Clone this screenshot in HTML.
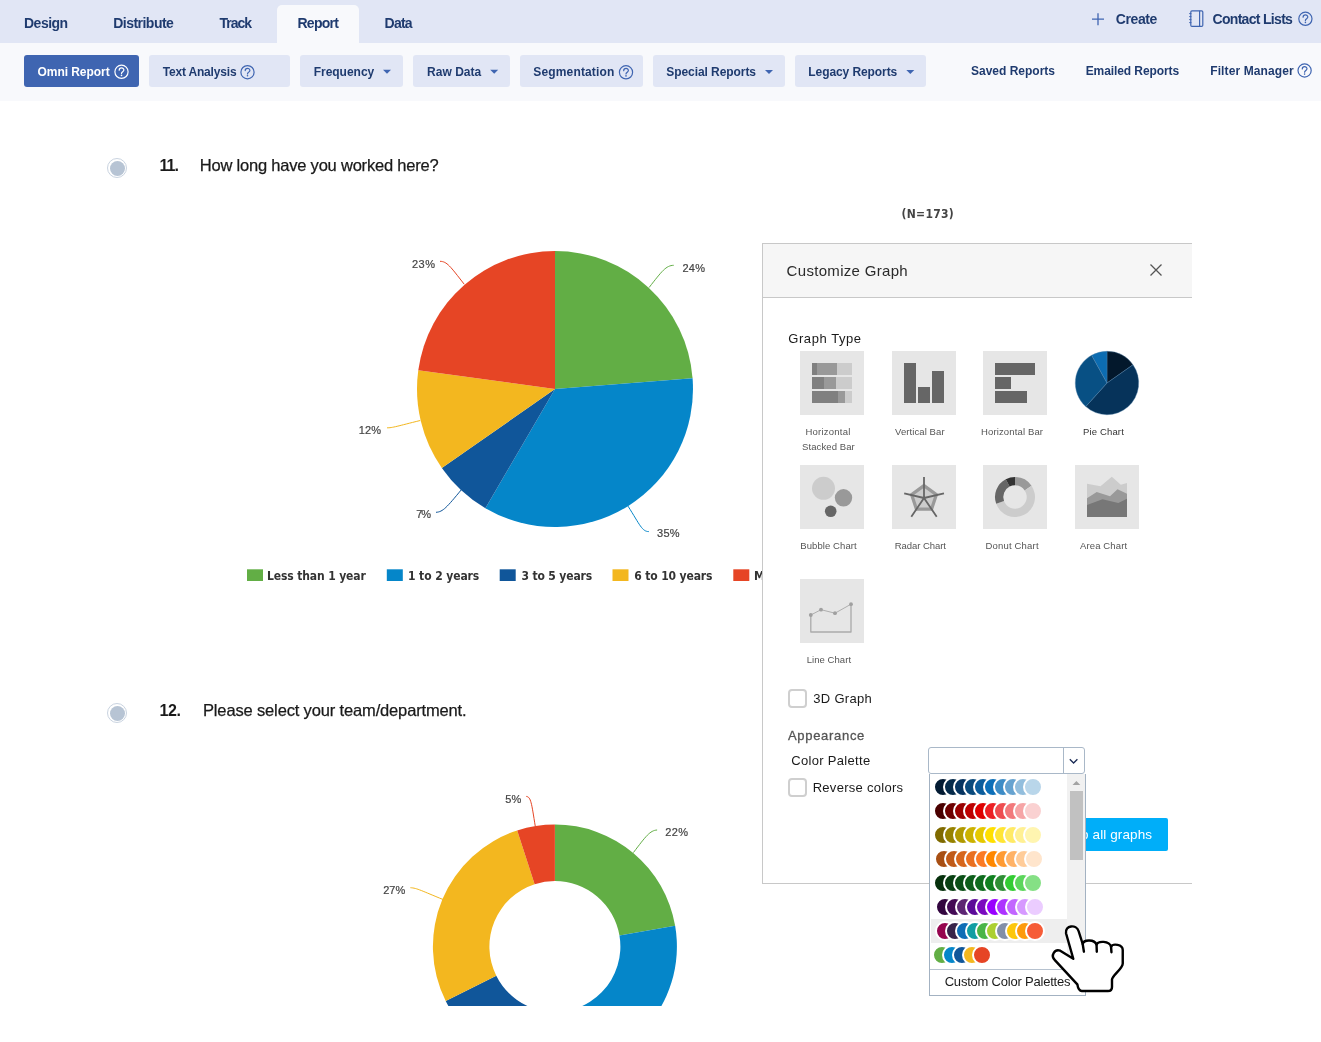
<!DOCTYPE html>
<html lang="en"><head><meta charset="utf-8"><title>Omni Report - Customize Graph</title>
<style>
html,body{margin:0;padding:0;background:#fff}
body{width:1321px;height:1042px;position:relative;overflow:hidden;font-family:"Liberation Sans",sans-serif}
span{position:absolute;white-space:nowrap;line-height:20px}
.abs{position:absolute}
#top{position:absolute;left:0;top:0;width:1321px;height:43px;background:#e1e6f5}
#tab{position:absolute;left:277px;top:5px;width:82px;height:38px;background:#f8f9fc;border-radius:5px 5px 0 0}
#sub{position:absolute;left:0;top:43px;width:1321px;height:58px;background:#f8f9fc}
.btn{position:absolute;top:55px;height:32px;background:#e1e6f5;border-radius:3px}
.btn.on{background:#3f65b1}
#clip{position:absolute;left:0;top:0;width:1192px;height:1006px;overflow:hidden}
#panel{position:absolute;left:762px;top:243px;width:440px;height:641px;background:#fff;border:1px solid #c8c8c8;box-sizing:border-box}
#phead{position:absolute;left:0;top:0;width:100%;height:54px;background:#f6f6f6;border-bottom:1px solid #c8c8c8;box-sizing:border-box}
.cb{position:absolute;width:19px;height:19px;box-sizing:border-box;border:2px solid #cfcfcf;border-radius:4px;background:#fff}
.radio{position:absolute;width:20px;height:20px;box-sizing:border-box;border:1px solid #c9d3e0;border-radius:50%;background:#fff}
.radio:after{content:"";position:absolute;left:1.5px;top:1.5px;width:15px;height:15px;border-radius:50%;background:#b7c4d4}
#apply{position:absolute;left:1020px;top:818px;width:148px;height:33px;background:#00aef9;border-radius:2px}
#sel{position:absolute;left:928px;top:747px;width:157px;height:27px;box-sizing:border-box;border:1px solid #a9b8c8;border-radius:3px;background:#fff;z-index:3}
#sel:after{content:"";position:absolute;left:134px;top:0;width:1px;height:25px;background:#a9b8c8}
#dd{position:absolute;left:929px;top:774px;width:157px;height:222px;box-sizing:border-box;border:1px solid #a3b2c2;border-top:none;background:#fff;z-index:3}
#track{position:absolute;left:1067px;top:774px;width:18px;height:195px;background:#f1f1f1;z-index:4}
#thumb{position:absolute;left:1070px;top:791px;width:13px;height:69px;background:#c1c1c1;z-index:5}
#sep{position:absolute;left:930px;top:969px;width:155px;height:1px;background:#b6c2cf;z-index:5}
.prow{position:absolute;left:931px;width:136px;height:24px;z-index:4}
.prow.hl{background:#eeeeee}
.prow i{position:absolute;top:2px;width:16px;height:16px;border-radius:50%;border:2px solid #fff;background-clip:padding-box}
.z2{z-index:2}
.sb{-webkit-text-stroke:0.3px #555}
.q{-webkit-text-stroke:0.25px #1a1a1a}
.pl{-webkit-text-stroke:0.2px #444}
.z6{z-index:6}
</style></head>
<body>
<div id="clip">
<div class="radio" style="left:107px;top:158px"></div><div class="radio" style="left:107px;top:703px"></div>
<svg class="abs" style="left:0;top:0" width="1192" height="1006" viewBox="0 0 1192 1006"><path d="M555.00 389.00L555.00 251.00A138 138 0 0 1 692.57 378.17Z" fill="#62ae45"/><path d="M555.00 389.00L692.57 378.17A138 138 0 0 1 485.38 508.15Z" fill="#0586c9"/><path d="M555.00 389.00L485.38 508.15A138 138 0 0 1 441.82 467.96Z" fill="#10569a"/><path d="M555.00 389.00L441.82 467.96A138 138 0 0 1 418.28 370.27Z" fill="#f3b71f"/><path d="M555.00 389.00L418.28 370.27A138 138 0 0 1 555.00 251.00Z" fill="#e64525"/><path d="M673.7 265.3C666 265.5 662 271 649.1 287.5" fill="none" stroke="#62ae45" stroke-width="1"/><path d="M648.8 531.6C642 531.5 640 525 628 506.1" fill="none" stroke="#0586c9" stroke-width="1"/><path d="M436 512.3C443 512 447 507 461.3 489.8" fill="none" stroke="#10569a" stroke-width="1"/><path d="M387 427.8C392 428 398 426 420.2 420.5" fill="none" stroke="#f3b71f" stroke-width="1"/><path d="M440 261.3C447 261.5 450 266 464.2 284.2" fill="none" stroke="#e64525" stroke-width="1"/><path d="M554.90 824.50A122 122 0 0 1 675.14 925.84L619.45 935.41A65.5 65.5 0 0 0 554.90 881.00Z" fill="#62ae45"/><path d="M675.14 925.84A122 122 0 0 1 537.92 1067.31L545.78 1011.36A65.5 65.5 0 0 0 619.45 935.41Z" fill="#0586c9"/><path d="M537.92 1067.31A122 122 0 0 1 445.72 1000.94L496.28 975.73A65.5 65.5 0 0 0 545.78 1011.36Z" fill="#10569a"/><path d="M445.72 1000.94A122 122 0 0 1 517.20 830.47L534.66 884.21A65.5 65.5 0 0 0 496.28 975.73Z" fill="#f3b71f"/><path d="M517.20 830.47A122 122 0 0 1 554.90 824.50L554.90 881.00A65.5 65.5 0 0 0 534.66 884.21Z" fill="#e64525"/><path d="M657.1 830C650 830.5 646 836 633.4 852.6" fill="none" stroke="#62ae45" stroke-width="1"/><path d="M526.3 796.4C531 797 531.5 803 535.3 826.4" fill="none" stroke="#e64525" stroke-width="1"/><path d="M410.4 887.7C417 888 422 891 443.1 899.5" fill="none" stroke="#f3b71f" stroke-width="1"/><rect x="247" y="569.3" width="16" height="11.7" fill="#62ae45"/><rect x="386.8" y="569.3" width="16" height="11.7" fill="#0586c9"/><rect x="499.7" y="569.3" width="16" height="11.7" fill="#10569a"/><rect x="612.5" y="569.3" width="16" height="11.7" fill="#f3b71f"/><rect x="733.3" y="569.3" width="16" height="11.7" fill="#e64525"/></svg>
<span style="left:159.5px;top:155.5px;font-size:16px;font-weight:bold;color:#1a1a1a;letter-spacing:-1.00px;">11.</span>
<span class="q" style="left:199.8px;top:154.5px;font-size:16.5px;font-weight:normal;color:#1a1a1a;letter-spacing:-0.21px;">How long have you worked here?</span>
<span style="left:159.6px;top:700.7px;font-size:16px;font-weight:bold;color:#1a1a1a;letter-spacing:-0.45px;">12.</span>
<span class="q" style="left:203.0px;top:699.7px;font-size:16.5px;font-weight:normal;color:#1a1a1a;letter-spacing:-0.15px;">Please select your team/department.</span>
<span style="left:901.6px;top:204.0px;font-size:12px;font-weight:bold;color:#444444;letter-spacing:0.27px;font-family:'DejaVu Sans Condensed','DejaVu Sans','Liberation Sans',sans-serif;">(N=173)</span>
<span class="pl" style="left:412.0px;top:254.0px;font-size:11px;font-weight:normal;color:#444444;letter-spacing:0.50px;">23%</span>
<span class="pl" style="left:682.4px;top:258.0px;font-size:11px;font-weight:normal;color:#444444;letter-spacing:0.25px;">24%</span>
<span class="pl" style="left:657.1px;top:523.0px;font-size:11px;font-weight:normal;color:#444444;letter-spacing:0.25px;">35%</span>
<span class="pl" style="left:416.2px;top:503.5px;font-size:11px;font-weight:normal;color:#444444;letter-spacing:-1.00px;">7%</span>
<span class="pl" style="left:358.8px;top:420.2px;font-size:11px;font-weight:normal;color:#444444;letter-spacing:0.05px;">12%</span>
<span class="pl" style="left:665.3px;top:822.2px;font-size:11px;font-weight:normal;color:#444444;letter-spacing:0.30px;">22%</span>
<span class="pl" style="left:505.3px;top:788.7px;font-size:11px;font-weight:normal;color:#444444;letter-spacing:0.10px;">5%</span>
<span class="pl" style="left:383.2px;top:880.0px;font-size:11px;font-weight:normal;color:#444444;letter-spacing:0.00px;">27%</span>
<span style="left:267.1px;top:566.0px;font-size:12px;font-weight:bold;color:#333333;letter-spacing:-0.13px;font-family:'DejaVu Sans Condensed','DejaVu Sans','Liberation Sans',sans-serif;">Less than 1 year</span>
<span style="left:408.0px;top:566.0px;font-size:12px;font-weight:bold;color:#333333;letter-spacing:-0.09px;font-family:'DejaVu Sans Condensed','DejaVu Sans','Liberation Sans',sans-serif;">1 to 2 years</span>
<span style="left:521.4px;top:566.0px;font-size:12px;font-weight:bold;color:#333333;letter-spacing:-0.13px;font-family:'DejaVu Sans Condensed','DejaVu Sans','Liberation Sans',sans-serif;">3 to 5 years</span>
<span style="left:634.2px;top:566.0px;font-size:12px;font-weight:bold;color:#333333;letter-spacing:-0.13px;font-family:'DejaVu Sans Condensed','DejaVu Sans','Liberation Sans',sans-serif;">6 to 10 years</span>
<span style="left:754.0px;top:566.0px;font-size:12px;font-weight:bold;color:#333333;letter-spacing:0.00px;font-family:'DejaVu Sans Condensed','DejaVu Sans','Liberation Sans',sans-serif;">More than 10 years</span>
<div id="panel"><div id="phead"></div></div>
<svg class="abs" style="left:0;top:0" width="1192" height="1006" viewBox="0 0 1192 1006"><rect x="800" y="351" width="64" height="64" fill="#e6e6e6"/><rect x="892" y="351" width="64" height="64" fill="#e6e6e6"/><rect x="983" y="351" width="64" height="64" fill="#e6e6e6"/><rect x="800" y="465" width="64" height="64" fill="#e6e6e6"/><rect x="892" y="465" width="64" height="64" fill="#e6e6e6"/><rect x="983" y="465" width="64" height="64" fill="#e6e6e6"/><rect x="1075" y="465" width="64" height="64" fill="#e6e6e6"/><rect x="800" y="579" width="64" height="64" fill="#e6e6e6"/><rect x="812" y="363" width="5" height="12" fill="#808080"/><rect x="817" y="363" width="20" height="12" fill="#999999"/><rect x="837" y="363" width="15" height="12" fill="#cccccc"/><rect x="812" y="377" width="12" height="12" fill="#808080"/><rect x="824" y="377" width="12" height="12" fill="#999999"/><rect x="836" y="377" width="16" height="12" fill="#cccccc"/><rect x="812" y="391" width="26" height="12" fill="#808080"/><rect x="838" y="391" width="7" height="12" fill="#999999"/><rect x="845" y="391" width="7" height="12" fill="#cccccc"/><rect x="904" y="363" width="12" height="40" fill="#666666"/><rect x="918" y="387" width="12" height="16" fill="#666666"/><rect x="932" y="371" width="12" height="32" fill="#666666"/><rect x="995" y="363" width="40" height="12" fill="#666666"/><rect x="995" y="377" width="16" height="12" fill="#666666"/><rect x="995" y="391" width="32" height="12" fill="#666666"/><path d="M1107.00 383.00L1107.00 351.30A31.7 31.7 0 0 1 1132.97 364.82Z" fill="#03182c" stroke="#4f7ea6" stroke-width="0.4"/><path d="M1107.00 383.00L1132.97 364.82A31.7 31.7 0 0 1 1085.79 406.56Z" fill="#06335a" stroke="#4f7ea6" stroke-width="0.4"/><path d="M1107.00 383.00L1085.79 406.56A31.7 31.7 0 0 1 1091.63 355.27Z" fill="#085084" stroke="#4f7ea6" stroke-width="0.4"/><path d="M1107.00 383.00L1091.63 355.27A31.7 31.7 0 0 1 1107.00 351.30Z" fill="#0c6cb1" stroke="#4f7ea6" stroke-width="0.4"/><circle cx="823.5" cy="488.3" r="11.5" fill="#cccccc"/><circle cx="843.5" cy="497.8" r="8.7" fill="#999999"/><circle cx="830.7" cy="511.3" r="5.8" fill="#666666"/><polygon points="924.0,485.6 936.4,494.6 931.6,509.1 916.4,509.1 911.6,494.6" fill="#cccccc" stroke="#999999" stroke-width="3.2" stroke-linejoin="miter"/><path d="M924 498V477M924 498L944 493.3M924 498L936.7 516.7M924 498L911.3 516.7M924 498L904.2 493.3" stroke="#666666" stroke-width="1.8" fill="none"/><path d="M1015.00 477.00A20 20 0 0 1 1031.50 485.70L1024.65 490.39A11.7 11.7 0 0 0 1015.00 485.30Z" fill="#999999"/><path d="M1031.50 485.70A20 20 0 1 1 996.21 503.84L1004.01 501.00A11.7 11.7 0 1 0 1024.65 490.39Z" fill="#cccccc"/><path d="M996.21 503.84A20 20 0 0 1 1005.77 479.26L1009.60 486.62A11.7 11.7 0 0 0 1004.01 501.00Z" fill="#666666"/><path d="M1005.77 479.26A20 20 0 0 1 1015.00 477.00L1015.00 485.30A11.7 11.7 0 0 0 1009.60 486.62Z" fill="#333333"/><path d="M1087 483.7L1100.5 486.3L1111.8 476.8L1120.8 484.7L1127 483V517H1087Z" fill="#cccccc"/><path d="M1087 498.3L1096.7 492L1110 496.2L1117.5 489.2L1127 493.7V517H1087Z" fill="#999999"/><path d="M1087 505L1102.5 499.2L1118.3 503L1127 498.7V517H1087Z" fill="#777777"/><path d="M810.8 615V632H851V604.2" stroke="#aaaaaa" stroke-width="1.3" fill="none" stroke-linejoin="round"/><path d="M810.8 615L821 609.7L835 613.2L851 604.2" stroke="#a0a0a0" stroke-width="0.8" fill="none"/><circle cx="810.8" cy="615" r="1.9" fill="#a0a0a0"/><circle cx="821" cy="609.7" r="1.9" fill="#a0a0a0"/><circle cx="835" cy="613.2" r="1.9" fill="#a0a0a0"/><circle cx="851" cy="604.2" r="1.9" fill="#a0a0a0"/><path d="M1150.5 264.5L1161.5 275.5M1161.5 264.5L1150.5 275.5" stroke="#555555" stroke-width="1.3" fill="none"/></svg>
<div class="cb" style="left:788px;top:689px"></div><div class="cb" style="left:788px;top:778px"></div>
<div id="apply"></div>
<span style="left:786.6px;top:260.8px;font-size:15px;font-weight:normal;color:#2b2b2b;letter-spacing:0.31px;">Customize Graph</span>
<span style="left:788.3px;top:328.5px;font-size:13px;font-weight:normal;color:#1a1a1a;letter-spacing:0.56px;">Graph Type</span>
<span style="left:805.5px;top:422.1px;font-size:9.5px;font-weight:normal;color:#555555;letter-spacing:0.22px;">Horizontal</span>
<span style="left:802.0px;top:437.4px;font-size:9.5px;font-weight:normal;color:#555555;letter-spacing:0.10px;">Stacked Bar</span>
<span style="left:895.0px;top:422.1px;font-size:9.5px;font-weight:normal;color:#555555;letter-spacing:0.09px;">Vertical Bar</span>
<span style="left:981.0px;top:422.1px;font-size:9.5px;font-weight:normal;color:#555555;letter-spacing:0.14px;">Horizontal Bar</span>
<span style="left:1083.0px;top:422.1px;font-size:9.5px;font-weight:normal;color:#333333;letter-spacing:0.15px;">Pie Chart</span>
<span style="left:800.3px;top:536.3px;font-size:9.5px;font-weight:normal;color:#555555;letter-spacing:0.08px;">Bubble Chart</span>
<span style="left:894.7px;top:536.3px;font-size:9.5px;font-weight:normal;color:#555555;letter-spacing:-0.05px;">Radar Chart</span>
<span style="left:985.5px;top:536.3px;font-size:9.5px;font-weight:normal;color:#555555;letter-spacing:0.18px;">Donut Chart</span>
<span style="left:1080.0px;top:536.3px;font-size:9.5px;font-weight:normal;color:#555555;letter-spacing:0.13px;">Area Chart</span>
<span style="left:806.7px;top:650.1px;font-size:9.5px;font-weight:normal;color:#555555;letter-spacing:0.06px;">Line Chart</span>
<span style="left:813.3px;top:688.8px;font-size:13px;font-weight:normal;color:#1a1a1a;letter-spacing:0.29px;">3D Graph</span>
<span class="sb" style="left:788.0px;top:726.0px;font-size:13px;font-weight:normal;color:#555555;letter-spacing:0.69px;">Appearance</span>
<span style="left:791.3px;top:751.0px;font-size:13px;font-weight:normal;color:#1a1a1a;letter-spacing:0.31px;">Color Palette</span>
<span style="left:812.7px;top:777.7px;font-size:13px;font-weight:normal;color:#1a1a1a;letter-spacing:0.28px;">Reverse colors</span>
<span class="z2" style="left:1039.0px;top:825.0px;font-size:13.5px;font-weight:normal;color:#ffffff;letter-spacing:0.11px;">Apply to all graphs</span>
<div id="sel"></div><svg class="abs" style="left:1064px;top:748px;z-index:4" width="20" height="24" viewBox="0 0 20 24"><path d="M5.8 11.2l3.8 3.8 3.8-3.8" fill="none" stroke="#1b2b55" stroke-width="1.3"/></svg>
<div id="dd"></div><div id="track"></div><div id="thumb"></div><div id="sep"></div>
<svg class="abs" style="left:1067px;top:773px;z-index:5" width="18" height="18" viewBox="0 0 18 18"><path d="M5.5 12l3.9-4 3.9 4z" fill="#a3a3a3"/></svg>
<div class="prow" style="top:775px"><i style="left:2.0px;background:#031b33"></i><i style="left:12.0px;background:#052a4a"></i><i style="left:22.0px;background:#063460"></i><i style="left:32.0px;background:#0a4a7c"></i><i style="left:42.0px;background:#0c5d9c"></i><i style="left:52.0px;background:#0d6fb8"></i><i style="left:62.0px;background:#3d8cc6"></i><i style="left:72.0px;background:#67a3d0"></i><i style="left:82.0px;background:#93bedd"></i><i style="left:92.0px;background:#b9d6ea"></i></div><div class="prow" style="top:799px"><i style="left:2.0px;background:#4a0000"></i><i style="left:12.0px;background:#6e0000"></i><i style="left:22.0px;background:#9a0000"></i><i style="left:32.0px;background:#bd0000"></i><i style="left:42.0px;background:#de0000"></i><i style="left:52.0px;background:#ec2024"></i><i style="left:62.0px;background:#ee4d50"></i><i style="left:72.0px;background:#f2797b"></i><i style="left:82.0px;background:#f6a5a6"></i><i style="left:92.0px;background:#fad1d1"></i></div><div class="prow" style="top:823px"><i style="left:2.0px;background:#7f6a00"></i><i style="left:12.0px;background:#968200"></i><i style="left:22.0px;background:#b09900"></i><i style="left:32.0px;background:#cbb100"></i><i style="left:42.0px;background:#e5c800"></i><i style="left:52.0px;background:#ffdf00"></i><i style="left:62.0px;background:#ffe535"></i><i style="left:72.0px;background:#ffea66"></i><i style="left:82.0px;background:#fff093"></i><i style="left:92.0px;background:#fff5b0"></i></div><div class="prow" style="top:847px"><i style="left:3.0px;background:#a84f13"></i><i style="left:13.0px;background:#c05a18"></i><i style="left:23.0px;background:#d6661c"></i><i style="left:33.0px;background:#e97020"></i><i style="left:43.0px;background:#fb7b24"></i><i style="left:53.0px;background:#ff8800"></i><i style="left:63.0px;background:#ff9b33"></i><i style="left:73.0px;background:#ffb266"></i><i style="left:83.0px;background:#ffcc99"></i><i style="left:93.0px;background:#ffe5cc"></i></div><div class="prow" style="top:871px"><i style="left:2.0px;background:#06300c"></i><i style="left:12.0px;background:#084012"></i><i style="left:22.0px;background:#0a4f16"></i><i style="left:32.0px;background:#0d5e1a"></i><i style="left:42.0px;background:#0e6b1d"></i><i style="left:52.0px;background:#108020"></i><i style="left:62.0px;background:#2e8f35"></i><i style="left:72.0px;background:#33cc33"></i><i style="left:82.0px;background:#5cd65c"></i><i style="left:92.0px;background:#85e085"></i></div><div class="prow" style="top:895px"><i style="left:3.9px;background:#33063f"></i><i style="left:13.9px;background:#440a55"></i><i style="left:23.9px;background:#5c2573"></i><i style="left:33.9px;background:#5c0a99"></i><i style="left:43.9px;background:#7a0abf"></i><i style="left:53.9px;background:#9900ff"></i><i style="left:63.9px;background:#ad33ff"></i><i style="left:73.9px;background:#c266ff"></i><i style="left:83.9px;background:#d699ff"></i><i style="left:93.9px;background:#ebccff"></i></div><div class="prow hl" style="top:919px"><i style="left:3.9px;background:#96054f"></i><i style="left:13.9px;background:#38234a"></i><i style="left:23.9px;background:#0e6db6"></i><i style="left:33.9px;background:#119ea3"></i><i style="left:43.9px;background:#4ab548"></i><i style="left:53.9px;background:#acd031"></i><i style="left:63.9px;background:#838fa8"></i><i style="left:73.9px;background:#fdc70c"></i><i style="left:83.9px;background:#fd9a0c"></i><i style="left:93.9px;background:#f65c37"></i></div><div class="prow" style="top:943px"><i style="left:1.0px;background:#62ae45"></i><i style="left:11.0px;background:#0586c9"></i><i style="left:21.0px;background:#10569a"></i><i style="left:31.0px;background:#f3b71f"></i><i style="left:41.0px;background:#e64525"></i></div>
<span class="z6" style="left:944.7px;top:971.5px;font-size:13px;font-weight:normal;color:#1a1a1a;letter-spacing:-0.21px;">Custom Color Palettes</span>
<svg class="abs" style="left:1030px;top:860px;z-index:9" width="140" height="150" viewBox="0 0 1041.6 1116"><path d="M322 735L268 545C258 485 345 475 362 530L392 625C400 590 480 590 495 630C505 600 590 600 603 645C615 620 690 625 690 670L690 770C690 810 610 860 610 890L610 945C610 965 600 975 580 975L385 975C365 975 358 960 352 925L185 745C150 710 185 660 225 675Z" fill="#fff" stroke="#000" stroke-width="18" stroke-linejoin="round"/><path d="M392 625L401 682M495 630L497 682M603 645L606 686" fill="none" stroke="#000" stroke-width="18" stroke-linecap="round"/></svg>
</div>
<div id="top"><div id="tab"></div></div><div id="sub"></div>
<div class="btn on" style="left:24px;width:115px"></div><div class="btn" style="left:149px;width:141px"></div><div class="btn" style="left:300px;width:103px"></div><div class="btn" style="left:413px;width:97px"></div><div class="btn" style="left:520px;width:123px"></div><div class="btn" style="left:653px;width:132px"></div><div class="btn" style="left:795px;width:131px"></div>
<svg class="abs" style="left:0;top:0" width="1321" height="101" viewBox="0 0 1321 101"><g stroke="#ffffff" fill="none" stroke-width="1.2" stroke-linecap="round"><circle cx="121.5" cy="71.8" r="6.6"/><path d="M119.2 70.2C119.2 67.2 123.9 67.2 123.9 70.1C123.9 71.6 121.5 71.89999999999999 121.5 73.5"/></g><circle cx="121.5" cy="75.39999999999999" r="0.8" fill="#ffffff"/><g stroke="#3f65b1" fill="none" stroke-width="1.2" stroke-linecap="round"><circle cx="247.5" cy="72.2" r="6.6"/><path d="M245.2 70.60000000000001C245.2 67.60000000000001 249.9 67.60000000000001 249.9 70.5C249.9 72.0 247.5 72.3 247.5 73.9"/></g><circle cx="247.5" cy="75.8" r="0.8" fill="#3f65b1"/><path d="M383 69.7h8l-4 4z" fill="#3f65b1"/><path d="M490.2 69.7h8l-4 4z" fill="#3f65b1"/><g stroke="#3f65b1" fill="none" stroke-width="1.2" stroke-linecap="round"><circle cx="626" cy="72.3" r="6.6"/><path d="M623.7 70.7C623.7 67.7 628.4 67.7 628.4 70.6C628.4 72.1 626 72.39999999999999 626 74.0"/></g><circle cx="626" cy="75.89999999999999" r="0.8" fill="#3f65b1"/><path d="M765 70h8l-4 4z" fill="#3f65b1"/><path d="M906.3 70h8l-4 4z" fill="#3f65b1"/><g stroke="#3f65b1" fill="none" stroke-width="1.2" stroke-linecap="round"><circle cx="1304.6" cy="70.5" r="6.6"/><path d="M1302.3 68.9C1302.3 65.9 1307.0 65.9 1307.0 68.8C1307.0 70.3 1304.6 70.6 1304.6 72.2"/></g><circle cx="1304.6" cy="74.1" r="0.8" fill="#3f65b1"/><g stroke="#3f65b1" fill="none" stroke-width="1.2" stroke-linecap="round"><circle cx="1305.4" cy="18.8" r="6.6"/><path d="M1303.1000000000001 17.2C1303.1000000000001 14.200000000000001 1307.8000000000002 14.200000000000001 1307.8000000000002 17.1C1307.8000000000002 18.6 1305.4 18.900000000000002 1305.4 20.5"/></g><circle cx="1305.4" cy="22.400000000000002" r="0.8" fill="#3f65b1"/><path d="M1092 19.2h12M1098 13.2v12" stroke="#3f65b1" stroke-width="1.3" fill="none"/><g stroke="#3f65b1" fill="none" stroke-width="1.2"><rect x="1190.8" y="10.8" width="12" height="15.6" rx="1.2"/><path d="M1199.6 10.8v15.6"/><path d="M1189.2 13.6h2.2M1189.2 16.6h2.2M1189.2 19.6h2.2M1189.2 22.6h2.2" stroke-width="1"/></g></svg>
<span style="left:24.0px;top:13.0px;font-size:14px;font-weight:bold;color:#1f3b6f;letter-spacing:-0.50px;">Design</span>
<span style="left:113.2px;top:13.0px;font-size:14px;font-weight:bold;color:#1f3b6f;letter-spacing:-0.52px;">Distribute</span>
<span style="left:219.5px;top:13.0px;font-size:14px;font-weight:bold;color:#1f3b6f;letter-spacing:-1.00px;">Track</span>
<span style="left:297.5px;top:13.0px;font-size:14px;font-weight:bold;color:#1f3b6f;letter-spacing:-0.74px;">Report</span>
<span style="left:384.5px;top:13.0px;font-size:14px;font-weight:bold;color:#1f3b6f;letter-spacing:-0.73px;">Data</span>
<span style="left:1115.7px;top:9.0px;font-size:14px;font-weight:bold;color:#1f3b6f;letter-spacing:-0.38px;">Create</span>
<span style="left:1212.5px;top:9.0px;font-size:14px;font-weight:bold;color:#1f3b6f;letter-spacing:-0.69px;">Contact Lists</span>
<span style="left:37.5px;top:62.0px;font-size:12px;font-weight:bold;color:#ffffff;letter-spacing:-0.05px;">Omni Report</span>
<span style="left:162.7px;top:62.0px;font-size:12px;font-weight:bold;color:#1f3b6f;letter-spacing:-0.18px;">Text Analysis</span>
<span style="left:313.7px;top:62.0px;font-size:12px;font-weight:bold;color:#1f3b6f;letter-spacing:-0.02px;">Frequency</span>
<span style="left:427.0px;top:62.0px;font-size:12px;font-weight:bold;color:#1f3b6f;letter-spacing:0.03px;">Raw Data</span>
<span style="left:533.3px;top:62.0px;font-size:12px;font-weight:bold;color:#1f3b6f;letter-spacing:0.15px;">Segmentation</span>
<span style="left:666.3px;top:62.0px;font-size:12px;font-weight:bold;color:#1f3b6f;letter-spacing:-0.07px;">Special Reports</span>
<span style="left:808.3px;top:62.0px;font-size:12px;font-weight:bold;color:#1f3b6f;letter-spacing:-0.08px;">Legacy Reports</span>
<span style="left:971.0px;top:61.0px;font-size:12px;font-weight:bold;color:#1f3b6f;letter-spacing:0.00px;">Saved Reports</span>
<span style="left:1085.7px;top:61.0px;font-size:12px;font-weight:bold;color:#1f3b6f;letter-spacing:-0.09px;">Emailed Reports</span>
<span style="left:1210.2px;top:61.0px;font-size:12px;font-weight:bold;color:#1f3b6f;letter-spacing:0.12px;">Filter Manager</span>
</body></html>
